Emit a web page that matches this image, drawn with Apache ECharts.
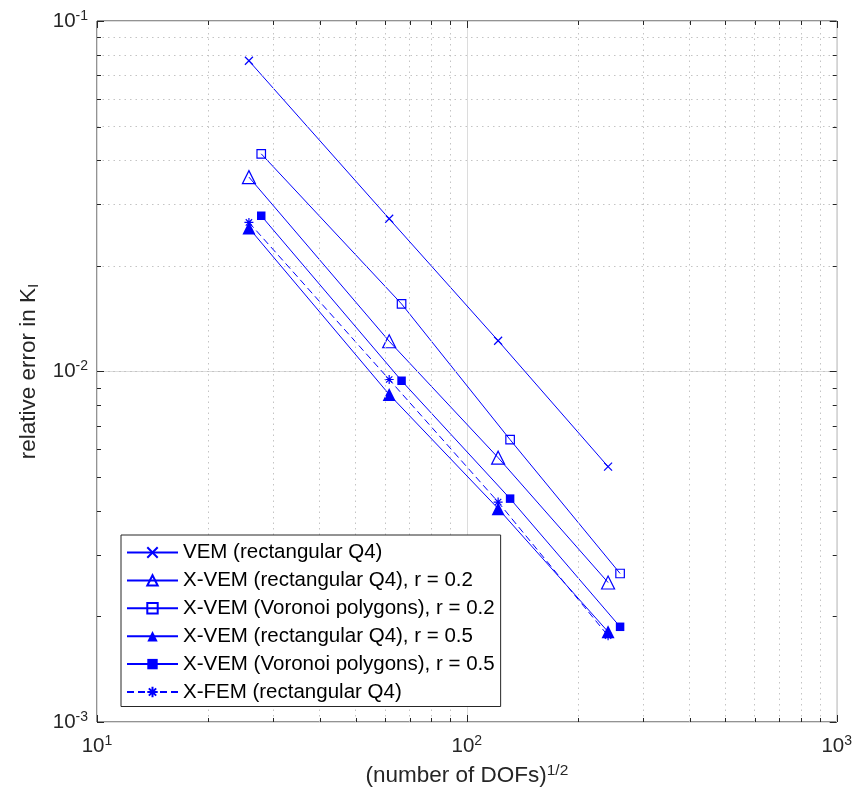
<!DOCTYPE html>
<html>
<head>
<meta charset="utf-8">
<script src="https://cdn.jsdelivr.net/npm/echarts@6/dist/echarts.min.js"></script>
<style>
  html, body { margin: 0; padding: 0; background: #fff; }
  #chart { width: 855px; height: 803px; }
</style>
</head>
<body>
<div id="chart"></div>
<script>
// ---- data ----
const xRect = [25.75, 61.66, 121.5, 240.9];   // sqrt(DOFs), rectangular Q4 meshes
const xVor  = [27.8, 66.6, 130.9, 259.6];     // sqrt(DOFs), Voronoi meshes
const vemRect    = [0.0770, 0.02728, 0.01224, 0.005353];
const xvemRect02 = [0.03586, 0.01220, 0.005677, 0.00250];
const xvemVor02  = [0.04179, 0.01559, 0.00639, 0.002653];
const xvemRect05 = [0.02567, 0.00860, 0.004062, 0.001809];
const xvemVor05  = [0.02782, 0.00941, 0.004338, 0.001869];
const xfemRect   = [0.02663, 0.009489, 0.004242, 0.001762];
const seriesNames = [
  'VEM (rectangular Q4)',
  'X-VEM (rectangular Q4), r = 0.2',
  'X-VEM (Voronoi polygons), r = 0.2',
  'X-VEM (rectangular Q4), r = 0.5',
  'X-VEM (Voronoi polygons), r = 0.5',
  'X-FEM (rectangular Q4)'
];
const xMajorTicks = [10, 100, 1000];
const yMajorTicks = [0.001, 0.01, 0.1];
const xMinorTicks = [20, 30, 40, 50, 60, 70, 80, 90, 200, 300, 400, 500, 600, 700, 800, 900];
const yMinorTicks = [0.002, 0.003, 0.004, 0.005, 0.006, 0.007, 0.008, 0.009,
                     0.02, 0.03, 0.04, 0.05, 0.06, 0.07, 0.08, 0.09];

// ---- styling ----
const BLUE = '#0000ff';
const AX = '#262626';
const FONT = 'Liberation Sans, Arial, Helvetica, sans-serif';
const SYM_X = 'path://M0,0L10,10M10,0L0,10';
const SYM_AST = 'path://M5,0L5,10M0,5L10,5M1.5,1.5L8.5,8.5M8.5,1.5L1.5,8.5';

function pairs(xs, ys) { return xs.map((x, i) => [x, ys[i]]); }
function supLabel(v) {
  const e = Math.round(Math.log10(v));
  return '{b|10}{s|' + e + '}';
}
const tickRich = {
  b: { fontSize: 20.5, color: AX, fontFamily: FONT },
  s: { fontSize: 14, color: AX, fontFamily: FONT, verticalAlign: 'bottom', padding: [0, 0, 10, 0] }
};

function mkSeries(name, xs, ys, symbol, size, hollow, dashed) {
  return {
    name: name,
    type: 'line',
    data: pairs(xs, ys),
    symbol: symbol,
    symbolSize: size,
    showAllSymbol: true,
    lineStyle: { color: BLUE, width: 1, type: dashed ? [7, 4] : 'solid' },
    itemStyle: {
      color: hollow ? 'rgba(0,0,0,0)' : BLUE,
      borderColor: BLUE,
      borderWidth: hollow ? 1.2 : 0
    },
    emphasis: { disabled: true },
    animation: false,
    z: 3
  };
}

const series = [
  mkSeries(seriesNames[0], xRect, vemRect, SYM_X, 8, true, false),
  mkSeries(seriesNames[1], xRect, xvemRect02, 'triangle', 13, true, false),
  mkSeries(seriesNames[2], xVor, xvemVor02, 'rect', 8.5, true, false),
  mkSeries(seriesNames[3], xRect, xvemRect05, 'triangle', 13, false, false),
  mkSeries(seriesNames[4], xVor, xvemVor05, 'rect', 8.5, false, false),
  mkSeries(seriesNames[5], xRect, xfemRect, SYM_AST, 9, true, true)
];

// minor grid (dotted) drawn by a helper series' markLine using the axes' scales
series.push({
  type: 'line',
  data: [],
  silent: true,
  animation: false,
  z: 1,
  markLine: {
    silent: true,
    symbol: ['none', 'none'],
    label: { show: false },
    animation: false,
    lineStyle: { color: '#c4c4c4', width: 1, type: [1.5, 4] },
    emphasis: { disabled: true },
    data: xMinorTicks.map(v => ({ xAxis: v })).concat(yMinorTicks.map(v => ({ yAxis: v })))
  }
});

const chart = echarts.init(document.getElementById('chart'), null, { renderer: 'canvas' });
chart.setOption({
  backgroundColor: '#ffffff',
  animation: false,
  grid: {
    left: 97, top: 21, right: 18, bottom: 81,
    show: true, borderColor: AX, borderWidth: 1, backgroundColor: '#fff'
  },
  xAxis: {
    type: 'log', logBase: 10, min: 10, max: 1000,
    axisLine: { show: false },
    axisTick: { show: false },
    splitLine: { show: true, lineStyle: { color: '#dcdcdc', width: 1 } },
    axisLabel: { margin: 12, formatter: supLabel, rich: tickRich },
    name: '{a|(number of DOFs)}{s|1/2}',
    nameLocation: 'middle',
    nameGap: 41,
    nameTextStyle: {
      rich: {
        a: { fontSize: 22.5, color: AX, fontFamily: FONT },
        s: { fontSize: 15.5, color: AX, fontFamily: FONT, verticalAlign: 'bottom', padding: [0, 0, 10, 0] }
      }
    }
  },
  yAxis: {
    type: 'log', logBase: 10, min: 0.001, max: 0.1,
    axisLine: { show: false },
    axisTick: { show: false },
    splitLine: { show: true, lineStyle: { color: '#dcdcdc', width: 1 } },
    axisLabel: { margin: 9, formatter: supLabel, rich: tickRich },
    name: '{a|relative error in K}{s|I}',
    nameLocation: 'middle',
    nameGap: 55,
    nameTextStyle: {
      rich: {
        a: { fontSize: 22.5, color: AX, fontFamily: FONT },
        s: { fontSize: 15.5, color: AX, fontFamily: FONT, verticalAlign: 'top', padding: [10, 0, 0, 0] }
      }
    }
  },
  legend: {
    data: seriesNames,
    orient: 'vertical',
    left: 121, top: 535,
    padding: [7, 6, 4, 5],
    itemGap: 6.9,
    itemWidth: 51,
    itemHeight: 13,
    backgroundColor: '#ffffff',
    borderColor: AX,
    borderWidth: 1,
    borderRadius: 0,
    selectedMode: false,
    textStyle: { fontSize: 20.5, lineHeight: 20, color: '#000', fontFamily: FONT },
    z: 10
  },
  series: series
});

// tick marks on all four sides, positioned by the axes' own scales
function drawTicks() {
  const els = [];
  const majorLen = 7, minorLen = 4;
  const p = (x, y) => chart.convertToPixel({ gridIndex: 0 }, [x, y]);
  const yBot = p(10, 0.001)[1], yTop = p(10, 0.1)[1];
  const xL = p(10, 0.001)[0], xR = p(1000, 0.001)[0];
  const addX = (v, len) => {
    const x = Math.round(p(v, 0.01)[0]) + 0.5;
    els.push({ type: 'line', silent: true, z: 20, shape: { x1: x, y1: yBot, x2: x, y2: yBot - len }, style: { stroke: AX, lineWidth: 1 } });
    els.push({ type: 'line', silent: true, z: 20, shape: { x1: x, y1: yTop, x2: x, y2: yTop + len }, style: { stroke: AX, lineWidth: 1 } });
  };
  const addY = (v, len) => {
    const y = Math.round(p(100, v)[1]) + 0.5;
    els.push({ type: 'line', silent: true, z: 20, shape: { x1: xL, y1: y, x2: xL + len, y2: y }, style: { stroke: AX, lineWidth: 1 } });
    els.push({ type: 'line', silent: true, z: 20, shape: { x1: xR, y1: y, x2: xR - len, y2: y }, style: { stroke: AX, lineWidth: 1 } });
  };
  xMajorTicks.forEach(v => addX(v, majorLen));
  xMinorTicks.forEach(v => addX(v, minorLen));
  yMajorTicks.forEach(v => addY(v, majorLen));
  yMinorTicks.forEach(v => addY(v, minorLen));
  chart.setOption({ graphic: { elements: els } });
}
drawTicks();
</script>
</body>
</html>
